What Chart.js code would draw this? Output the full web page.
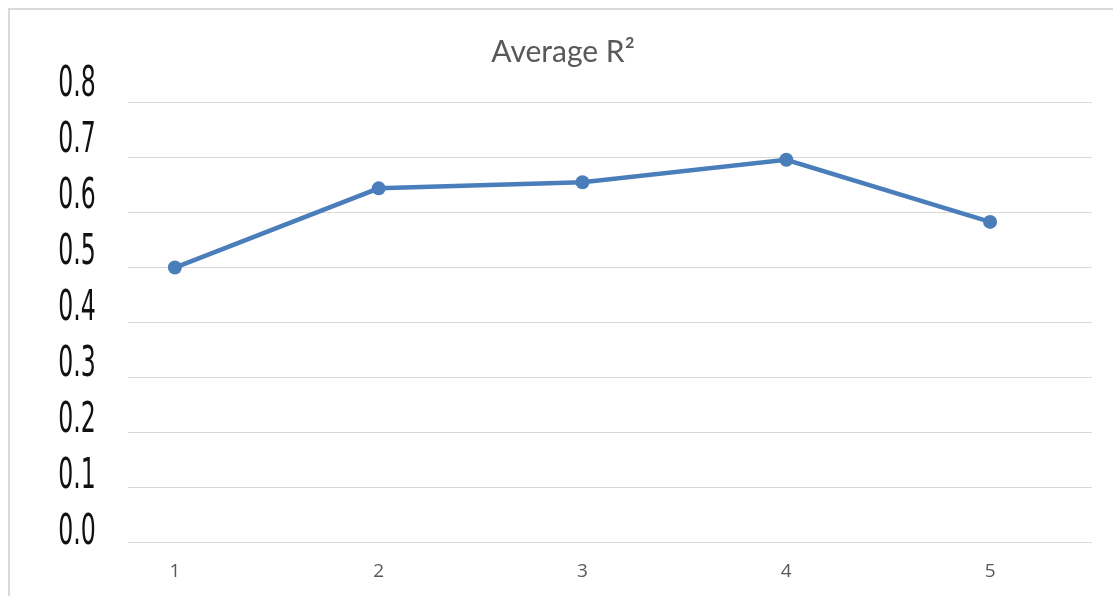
<!DOCTYPE html>
<html>
<head>
<meta charset="utf-8">
<script src="https://cdn.jsdelivr.net/npm/chart.js@4"></script>
<style>
  html, body { margin: 0; padding: 0; background: #ffffff; }
  #wrap { position: relative; width: 1113px; height: 596px; overflow: hidden; }
  #frame { position: absolute; left: 8px; top: 8px; width: 1120px; height: 600px; border: 2px solid #d9d9d9; box-sizing: border-box; }
  canvas { position: absolute; left: 0; top: 0; }
</style>
</head>
<body>
<div id="wrap">
  <div id="frame"></div>
  <canvas id="c" width="1113" height="596"></canvas>
</div>
<script>
const title = 'Average R\u00B2';
const categories = ['1', '2', '3', '4', '5'];
const averageR2 = [0.499, 0.643, 0.654, 0.695, 0.582];
const yTickValues = [0.0, 0.1, 0.2, 0.3, 0.4, 0.5, 0.6, 0.7, 0.8];
const yTickLabels = ['0.0', '0.1', '0.2', '0.3', '0.4', '0.5', '0.6', '0.7', '0.8'];

const points = categories.map((c, i) => ({ x: i + 1, y: averageR2[i] }));

const condensedYLabels = {
  id: 'condensedYLabels',
  afterDraw(chart) {
    const ctx = chart.ctx;
    const y = chart.scales.y;
    ctx.save();
    ctx.fillStyle = '#111111';
    ctx.font = '43px "Liberation Sans Narrow", "DejaVu Sans Condensed", sans-serif';
    ctx.textAlign = 'center';
    ctx.textBaseline = 'alphabetic';
    yTickValues.forEach((v, i) => {
      const py = y.getPixelForValue(v);
      const center = py - 14 - 9.6 * v;
      ctx.save();
      ctx.translate(77, center + 15.5);
      ctx.scale(0.61, 1);
      ctx.fillText(yTickLabels[i], 0, 0);
      ctx.restore();
    });
    ctx.restore();
  }
};

new Chart(document.getElementById('c'), {
  type: 'line',
  data: {
    datasets: [{
      label: title,
      data: points,
      borderColor: '#4a7ebb',
      backgroundColor: '#4a7ebb',
      borderWidth: 4.5,
      pointRadius: 7,
      pointHoverRadius: 7,
      pointBackgroundColor: '#4a7ebb',
      pointBorderColor: '#4a7ebb',
      pointBorderWidth: 0,
      tension: 0,
      fill: false
    }]
  },
  options: {
    responsive: false,
    animation: false,
    layout: { padding: { left: 34, right: 21, top: 0, bottom: 15 } },
    plugins: {
      legend: { display: false },
      tooltip: { enabled: false },
      title: {
        display: true,
        text: title,
        color: '#595959',
        font: { family: 'Lato, "Open Sans", sans-serif', size: 30, weight: 'normal' },
        padding: { top: 34, bottom: 32 }
      }
    },
    scales: {
      x: {
        type: 'linear',
        min: 0.77,
        max: 5.5,
        grid: { display: false, drawTicks: false },
        border: { display: false },
        afterBuildTicks(scale) {
          scale.ticks = categories.map((c, i) => ({ value: i + 1 }));
        },
        afterFit(scale) { scale.height = 39; },
        ticks: {
          padding: 18,
          maxRotation: 0,
          autoSkip: false,
          color: '#595959',
          font: { family: '"Open Sans", sans-serif', size: 19 },
          callback(value) {
            const idx = categories.indexOf(String(value));
            return idx >= 0 ? categories[idx] : '';
          }
        }
      },
      y: {
        min: 0,
        max: 0.8,
        afterBuildTicks(scale) {
          scale.ticks = yTickValues.map(v => ({ value: v }));
        },
        afterFit(scale) { scale.width = 94; },
        grid: { color: '#d9d9d9', lineWidth: 1, drawTicks: false },
        border: { display: false },
        ticks: { display: false }
      }
    }
  },
  plugins: [condensedYLabels]
});
</script>
</body>
</html>
